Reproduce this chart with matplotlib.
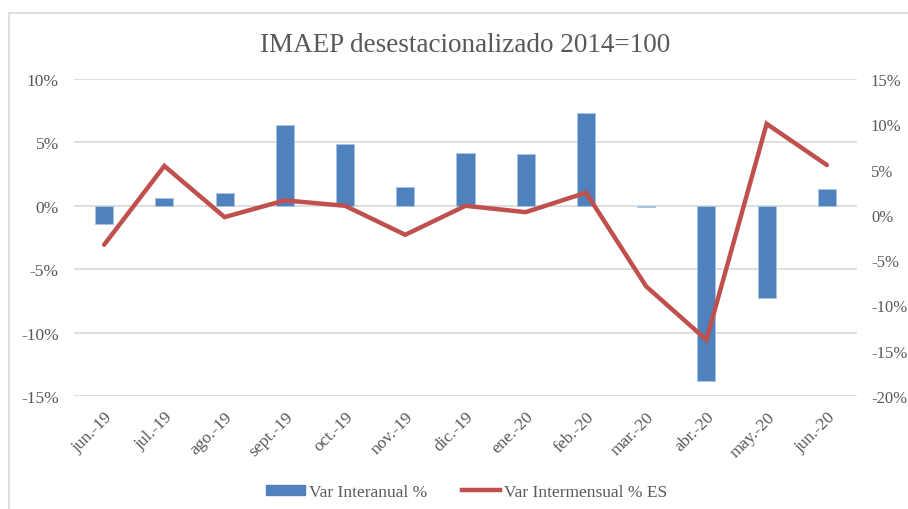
import matplotlib
matplotlib.use("Agg")
import matplotlib.pyplot as plt
from matplotlib.patches import Rectangle
from matplotlib.ticker import FuncFormatter, MultipleLocator
from matplotlib.lines import Line2D
from matplotlib.patches import Patch

months = ["jun.-19", "jul.-19", "ago.-19", "sept.-19", "oct.-19", "nov.-19", "dic.-19",
          "ene.-20", "feb.-20", "mar.-20", "abr.-20", "may.-20", "jun.-20"]
var_interanual = [-1.4, 0.6, 1.0, 6.4, 4.9, 1.45, 4.15, 4.05, 7.3, -0.1, -13.85, -7.25, 1.3]
var_intermensual = [-3.3, 5.4, -0.25, 1.6, 1.0, -2.2, 1.0, 0.3, 2.45, -7.9, -13.8, 10.05, 5.5]

plt.rcParams['font.family'] = ['Liberation Serif', 'DejaVu Serif']
GRAY = '#595959'
BLUE = '#4f81bd'
RED = '#c0504d'

fig = plt.figure(figsize=(9.08, 5.10), dpi=100)
W, H = 908, 510
ax = fig.add_axes([74 / W, 1 - 397 / H, (857 - 74) / W, (397 - 80) / H])
ax2 = ax.twinx()

x = list(range(len(months)))
ax.bar(x, var_interanual, width=0.3, color=BLUE, edgecolor='#a9c4e6', linewidth=0.6, zorder=2)
ax2.plot(x, var_intermensual, color=RED, linewidth=3.2, solid_capstyle='round', solid_joinstyle='miter', zorder=3)

ax.set_xlim(-0.5, len(months) - 0.5)
ax.set_ylim(-15, 10)
ax2.set_ylim(-20, 15)
ax.yaxis.set_major_locator(MultipleLocator(5))
ax2.yaxis.set_major_locator(MultipleLocator(5))
fmt = FuncFormatter(lambda v, p: f"{v:.0f}%")
ax.yaxis.set_major_formatter(fmt)
ax2.yaxis.set_major_formatter(fmt)

ax.grid(axis='y', color='#d9d9d9', linewidth=1.2, zorder=0)
ax.set_axisbelow(True)
for a in (ax, ax2):
    for s in a.spines.values():
        s.set_visible(False)
    a.tick_params(length=0, colors=GRAY, labelsize=12.5)
ax.tick_params(axis='y', pad=11)
ax2.tick_params(axis='y', pad=10, labelsize=12)

ax.set_xticks(x)
ax.set_xticklabels(months, rotation=45, ha='right', rotation_mode='anchor', fontsize=12.5, color=GRAY)
ax.tick_params(axis='x', pad=9)

fig.text(465 / W, 1 - 46 / H, "IMAEP desestacionalizado 2014=100", ha='center', va='center',
         fontsize=19.5, color=GRAY)

handles = [Patch(facecolor=BLUE, edgecolor=BLUE),
           Line2D([0], [0], color=RED, linewidth=3.2)]
fig.legend(handles, ["Var Interanual %", "Var Intermensual % ES"], loc='center',
           bbox_to_anchor=(467 / W, 1 - 493 / H), ncol=2, frameon=False, fontsize=12.5,
           labelcolor=GRAY, handlelength=2.2, handleheight=0.55, columnspacing=2.0, handletextpad=0.25)

fig.patches.append(Rectangle((9 / W, -0.1), 1.2, (1 - 14 / H) + 0.1, transform=fig.transFigure,
                             fill=False, edgecolor='#d9d9d9', linewidth=1.2))

fig.savefig("out.png", dpi=100)
